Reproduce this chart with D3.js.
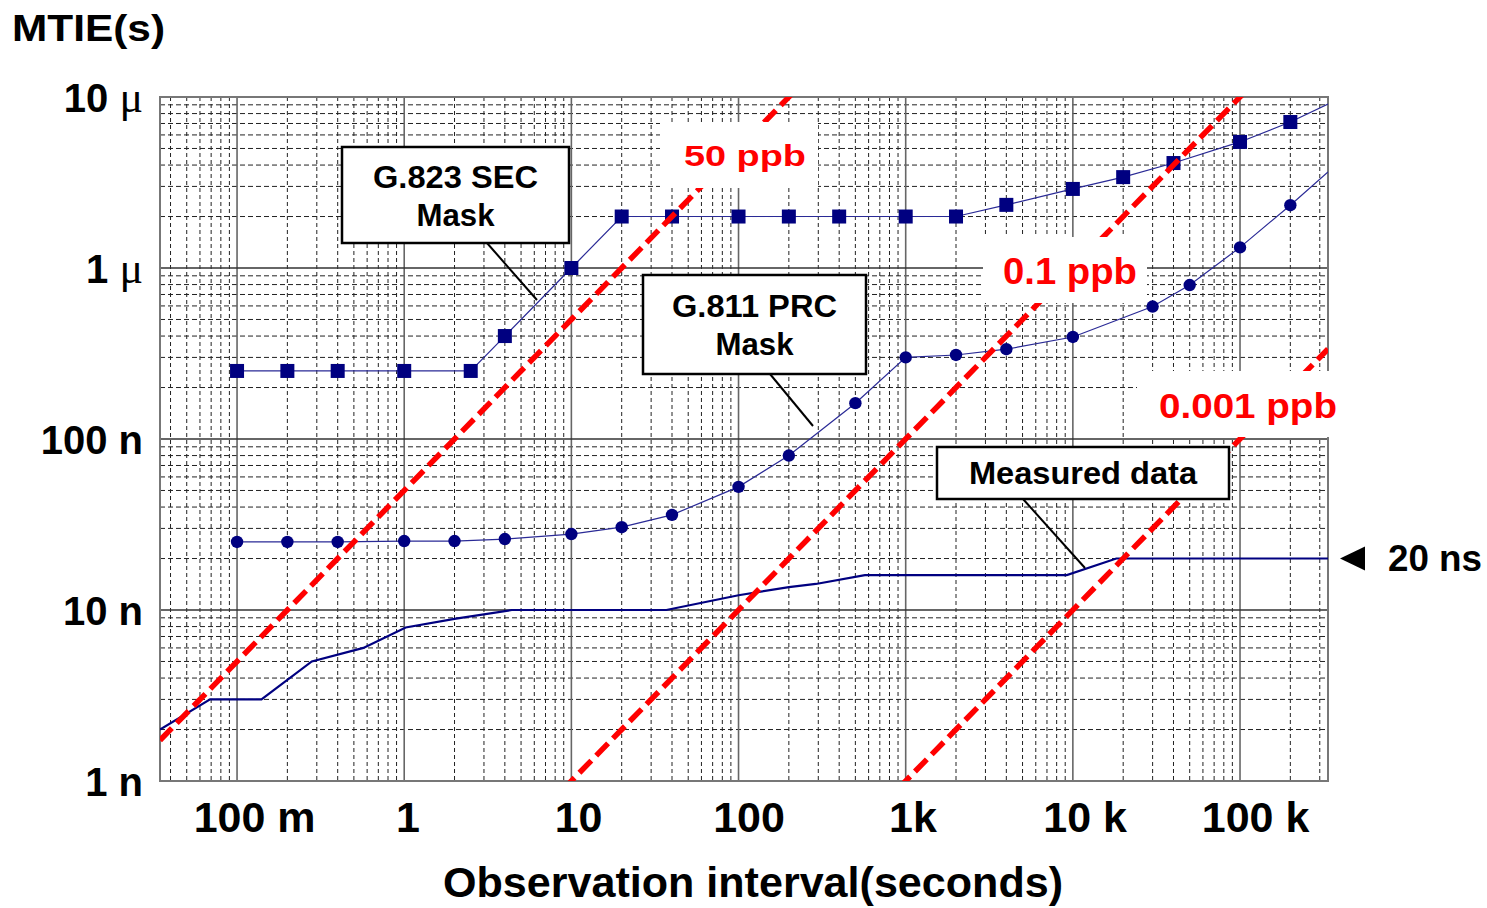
<!DOCTYPE html>
<html>
<head>
<meta charset="utf-8">
<script src="https://cdn.jsdelivr.net/npm/d3@7"></script>
<style>
body { margin: 0; background: #fff; }
text { font-family: "Liberation Sans", Arial, Helvetica, sans-serif; font-weight: bold; }
</style>
</head>
<body>
<svg id="chart" width="1487" height="908"></svg>
<script>
// ---- data (MTIE values in ns, tau in seconds) ----
// G.823 SEC mask (last point is where the line leaves the plot, no marker)
var secTau  = [0.1, 0.2, 0.4, 1, 2.5, 4, 10, 20, 40, 100, 200, 400, 1000, 2000, 4000, 10000, 20000, 40000, 100000, 200000, 336000];
var secMtie = [250, 250, 250, 250, 250, 400, 1000, 2000, 2000, 2000, 2000, 2000, 2000, 2000, 2340, 2900, 3400, 4110, 5460, 7140, 9100];

// G.811 PRC mask (last point is where the line leaves the plot, no marker)
var prcTau  = [0.1, 0.2, 0.4, 1, 2, 4, 10, 20, 40, 100, 200, 500, 1000, 2000, 4000, 10000, 30000, 50000, 100000, 200000, 336000];
var prcMtie = [25, 25, 25, 25.3, 25.3, 26, 27.8, 30.5, 36, 52.5, 80, 162, 300, 310, 335, 395, 595, 795, 1320, 2330, 3650];

// measured data
var measTau  = [0.0346, 0.069, 0.14, 0.28, 0.57, 1.02, 2.04, 4.4, 37, 100, 200, 290, 570, 9200, 18200, 336000];
var measMtie = [2.0, 3.0, 3.0, 5.0, 6.0, 7.9, 8.9, 10, 10, 12.2, 13.6, 14.2, 16, 16, 20, 20];

// frequency offset lines
var ppbValues = [50, 0.1, 0.001];
var ppbLabels = ["50 ppb", "0.1 ppb", "0.001 ppb"];

// ticks
var xTickValues = [0.1, 1, 10, 100, 1000, 10000, 100000];
var xTickLabels = ["100 m", "1", "10", "100", "1k", "10 k", "100 k"];
var yTickValues = [1e-9, 1e-8, 1e-7, 1e-6, 1e-5];
var yTickLabels = ["1 n", "10 n", "100 n", "1 μ", "10 μ"];

var markerLevel = 20; // ns

// ---- layout ----
var plot = {left: 160, right: 1328, top: 97, bottom: 781};

var svg = d3.select("#chart");

var x = d3.scaleLog().domain([0.0346, 336000]).range([plot.left, plot.right]);
var y = d3.scaleLog().domain([1e-9, 1e-5]).range([plot.bottom, plot.top]);

svg.append("defs").append("clipPath").attr("id", "clip")
    .append("rect")
        .attr("x", plot.left).attr("y", plot.top)
        .attr("width", plot.right - plot.left).attr("height", plot.bottom - plot.top);

// grid
var minorX = [], minorY = [];
for (var d = -2; d <= 5; d++) {
    for (var k = 2; k <= 9; k++) {
        var v = k * Math.pow(10, d);
        if (v > x.domain()[0] && v < x.domain()[1]) minorX.push(v);
    }
}
for (var d = -9; d <= -6; d++) {
    for (var k = 2; k <= 9; k++) minorY.push(k * Math.pow(10, d));
}

var grid = svg.append("g");
grid.selectAll(".vminor").data(minorX).enter().append("line")
    .attr("x1", d => x(d)).attr("x2", d => x(d))
    .attr("y1", plot.top).attr("y2", plot.bottom)
    .attr("stroke", "#222").attr("stroke-width", 1).attr("stroke-dasharray", "4,3");
grid.selectAll(".hminor").data(minorY).enter().append("line")
    .attr("y1", d => y(d)).attr("y2", d => y(d))
    .attr("x1", plot.left).attr("x2", plot.right)
    .attr("stroke", "#222").attr("stroke-width", 1).attr("stroke-dasharray", "5,3");
grid.selectAll(".vmajor").data(xTickValues).enter().append("line")
    .attr("x1", d => x(d)).attr("x2", d => x(d))
    .attr("y1", plot.top).attr("y2", plot.bottom)
    .attr("stroke", "#666").attr("stroke-width", 1.6);
grid.selectAll(".hmajor").data(yTickValues.slice(1, -1)).enter().append("line")
    .attr("y1", d => y(d)).attr("y2", d => y(d))
    .attr("x1", plot.left).attr("x2", plot.right)
    .attr("stroke", "#333").attr("stroke-width", 1.6);
grid.append("rect")
    .attr("x", plot.left).attr("y", plot.top)
    .attr("width", plot.right - plot.left).attr("height", plot.bottom - plot.top)
    .attr("fill", "none").attr("stroke", "#777").attr("stroke-width", 2);

// series
var line = d3.line().x(d => x(d[0])).y(d => y(d[1] * 1e-9));
var secPts = d3.zip(secTau, secMtie);
var prcPts = d3.zip(prcTau, prcMtie);
var measPts = d3.zip(measTau, measMtie);

var series = svg.append("g").attr("clip-path", "url(#clip)");
series.append("path").datum(secPts).attr("d", line)
    .attr("fill", "none").attr("stroke", "#2a2a96").attr("stroke-width", 1.2);
series.append("path").datum(prcPts).attr("d", line)
    .attr("fill", "none").attr("stroke", "#2a2a96").attr("stroke-width", 1.2);
series.append("path").datum(measPts).attr("d", line)
    .attr("fill", "none").attr("stroke", "#000080").attr("stroke-width", 2.2);

series.selectAll(".sq").data(secPts.slice(0, -1)).enter().append("rect")
    .attr("x", d => x(d[0]) - 7).attr("y", d => y(d[1] * 1e-9) - 7)
    .attr("width", 14).attr("height", 14).attr("fill", "#000080");
series.selectAll(".dot").data(prcPts.slice(0, -1)).enter().append("circle")
    .attr("cx", d => x(d[0])).attr("cy", d => y(d[1] * 1e-9))
    .attr("r", 6.2).attr("fill", "#000080");

// ppb lines: MTIE = offset * tau
series.selectAll(".ppb").data(ppbValues).enter().append("path")
    .attr("d", p => line(x.domain().map(t => [t, p * t])))
    .attr("fill", "none").attr("stroke", "#ff0000")
    .attr("stroke-width", 5.5).attr("stroke-dasharray", "17,7");

// ppb labels on white patches
var ppbBoxes = [
    {x0: 660, y0: 122, x1: 818, y1: 188, tx: 684, ty: 166, fs: 30, len: 122},
    {x0: 983, y0: 237, x1: 1147, y1: 303, tx: 1003, ty: 284, fs: 36, len: 134},
    {x0: 1137, y0: 371, x1: 1345, y1: 437, tx: 1159, ty: 418, fs: 35, len: 178}
];
ppbBoxes.forEach(function(b, i) {
    svg.append("rect").attr("x", b.x0).attr("y", b.y0)
        .attr("width", b.x1 - b.x0).attr("height", b.y1 - b.y0).attr("fill", "#fff");
    svg.append("text").attr("x", b.tx).attr("y", b.ty)
        .attr("font-size", b.fs).attr("fill", "#ff0000")
        .attr("textLength", b.len).attr("lengthAdjust", "spacingAndGlyphs")
        .text(ppbLabels[i]);
});

// callout boxes
var callouts = [
    {x0: 342, y0: 147, x1: 569, y1: 243, lines: ["G.823 SEC", "Mask"], base: [188, 226], len: [165, 78],
     p: [[487, 243], [537, 300]]},
    {x0: 643, y0: 275, x1: 866, y1: 374, lines: ["G.811 PRC", "Mask"], base: [317, 355], len: [165, 78],
     p: [[770, 374], [813, 426]]},
    {x0: 937, y0: 447, x1: 1229, y1: 499, lines: ["Measured data"], base: [484], len: [228],
     p: [[1023, 499], [1085, 568]]}
];
callouts.forEach(function(c) {
    svg.append("line").attr("x1", c.p[0][0]).attr("y1", c.p[0][1])
        .attr("x2", c.p[1][0]).attr("y2", c.p[1][1])
        .attr("stroke", "#000").attr("stroke-width", 2);
    svg.append("rect").attr("x", c.x0).attr("y", c.y0)
        .attr("width", c.x1 - c.x0).attr("height", c.y1 - c.y0)
        .attr("fill", "#fff").attr("stroke", "#000").attr("stroke-width", 2.5);
    c.lines.forEach(function(t, i) {
        svg.append("text").attr("x", (c.x0 + c.x1) / 2).attr("y", c.base[i])
            .attr("text-anchor", "middle").attr("font-size", 31)
            .attr("textLength", c.len[i]).attr("lengthAdjust", "spacingAndGlyphs")
            .text(t);
    });
});

// 20 ns marker
var ym = y(markerLevel * 1e-9);
svg.append("path")
    .attr("d", "M1340," + ym + "L1365," + (ym - 12) + "L1365," + (ym + 12) + "Z")
    .attr("fill", "#000");
svg.append("text").attr("x", 1388).attr("y", ym + 12.5)
    .attr("font-size", 36).attr("textLength", 94).attr("lengthAdjust", "spacingAndGlyphs")
    .text(markerLevel + " ns");

// x axis labels
var xAxis = svg.append("g")
    .attr("transform", "translate(0," + plot.bottom + ")")
    .call(d3.axisBottom(x).tickValues(xTickValues)
        .tickFormat((d, i) => xTickLabels[i]).tickSize(0).tickPadding(0));
xAxis.select(".domain").remove();
xAxis.selectAll("text")
    .attr("y", 51).attr("dy", null)
    .attr("font-size", 43).attr("fill", "#000")
    .attr("font-family", null)
    .attr("dx", function() { return this.getComputedTextLength() * 0.14; });

// y axis labels
var yAxis = svg.append("g")
    .attr("transform", "translate(143,0)")
    .call(d3.axisLeft(y).tickValues(yTickValues)
        .tickFormat((d, i) => yTickLabels[i]).tickSize(0).tickPadding(0));
yAxis.select(".domain").remove();
yAxis.selectAll("text")
    .attr("font-size", 40).attr("font-family", null).attr("fill", "#000")
    .attr("dy", "0.36em")
    .each(function(d, i) {
        var lbl = yTickLabels[i];
        var t = d3.select(this).text(null);
        if (lbl.indexOf("μ") >= 0) {
            t.append("tspan").text(lbl.replace("μ", ""));
            t.append("tspan").text("μ")
                .attr("font-family", "'Liberation Serif', 'Times New Roman', serif")
                .attr("font-weight", "normal").attr("font-size", 44);
        } else {
            t.text(lbl);
        }
    });

// titles
svg.append("text").attr("x", 12).attr("y", 41)
    .attr("font-size", 37).attr("textLength", 153).attr("lengthAdjust", "spacingAndGlyphs")
    .text("MTIE(s)");
svg.append("text").attr("x", 443).attr("y", 897)
    .attr("font-size", 42).attr("textLength", 620).attr("lengthAdjust", "spacingAndGlyphs")
    .text("Observation interval(seconds)");
</script>
</body>
</html>
